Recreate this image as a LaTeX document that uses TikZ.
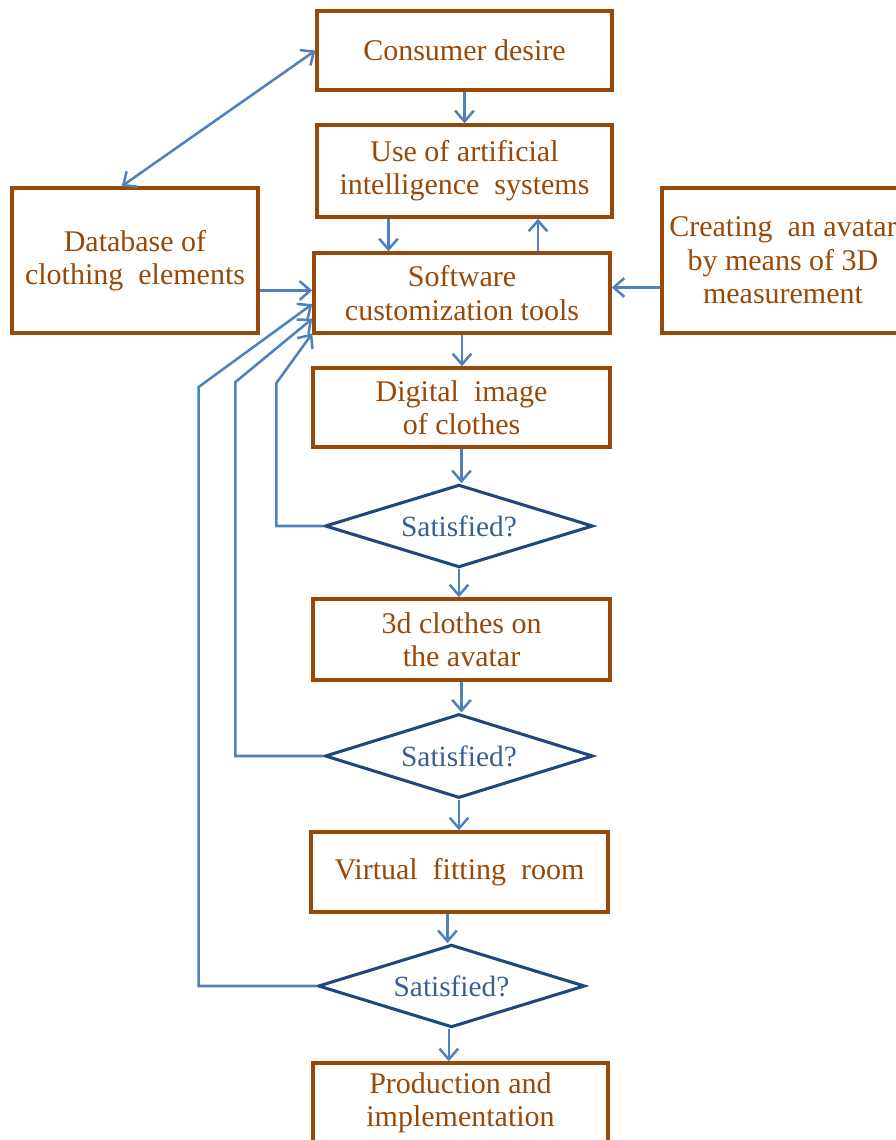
\documentclass[tikz,border=0pt]{standalone}
\usepackage{fontspec}
\setmainfont{Liberation Serif}
\usetikzlibrary{shapes.geometric,arrows.meta,calc}
\definecolor{boxbrown}{HTML}{984807}
\definecolor{dianavy}{HTML}{1F497D}
\definecolor{diatext}{HTML}{376092}
\definecolor{flowblue}{HTML}{4F81BD}
\begin{document}
\begin{tikzpicture}[x=0.75pt,y=0.75pt,yscale=-1,xscale=1,
    box/.style={draw=boxbrown,line width=2.6pt,text=boxbrown,align=center,inner sep=0pt,
      font=\fontsize{22.5pt}{25pt}\selectfont},
    decision/.style={diamond,aspect=3.25,draw=dianavy,line width=2.3pt,text=diatext,inner sep=0pt,
      minimum width=201pt,minimum height=62pt,font=\fontsize{22pt}{25pt}\selectfont},
    flow/.style={draw=flowblue,line width=1.9pt,-{Straight Barb[length=8pt,width=14pt]}}]
    %set diagram size 896 x 1140
    \useasboundingbox (0,0) rectangle (896,1140);

    % Boxes
    \node [box,minimum width=221pt,minimum height=59pt] (desire) at (464.5,50.5) {Consumer desire};
    \node [box,minimum width=221pt,minimum height=69pt] (ai) at (464.5,171) {Use of artificial\\intelligence\ \ systems};
    \node [box,minimum width=184.5pt,minimum height=108.75pt] (db) at (135,260.5) {Database of\\clothing\ \ elements};
    \node [box,minimum width=222pt,minimum height=60pt] (soft) at (462,293) {Software\\customization tools};
    \node [box,minimum width=181.5pt,minimum height=108.75pt] (avatar) at (783,260.5) {Creating\ \ an avatar\\by means of 3D\\measurement};
    \node [box,minimum width=222.75pt,minimum height=59.25pt] (digital) at (461.5,407.5) {Digital\ \ image\\of clothes};
    \node [box,minimum width=222.75pt,minimum height=60.75pt] (clothes) at (461.5,639.5) {3d clothes on\\the avatar};
    \node [box,minimum width=222.75pt,minimum height=60pt] (fitting) at (459.5,872) {Virtual\ \ fitting\ \ room};
    \node [box,minimum width=221.25pt,minimum height=60pt] (prod) at (460.5,1103) {Production and\\implementation};

    % Decisions
    \node [decision] (sat1) at (459,526) {Satisfied?};
    \node [decision,minimum height=63pt] (sat2) at (459,756) {Satisfied?};
    \node [decision,minimum width=200pt] (sat3) at (451.5,986) {Satisfied?};

    % Main flow
    \draw [flow,{Straight Barb[length=8pt,width=14pt]}-{Straight Barb[length=8pt,width=14pt]}] ([xshift=-10pt]db.north) -- (desire.west);
    \draw [flow] (desire.south) -- (ai.north);
    \draw [flow] ([xshift=-57pt]ai.south) -- ([xshift=-57pt]ai.south |- soft.north);
    \draw [flow] ([xshift=57pt]soft.north) -- ([xshift=57pt]soft.north |- ai.south);
    \draw [flow] (db.east) ++(0,30) coordinate (dbout) -- (dbout -| soft.west);
    \draw [flow] (avatar.west) ++(0,27) coordinate (avout) -- (avout -| soft.east);
    \draw [flow] (soft.south) -- (soft.south |- digital.north);
    \draw [flow] (digital.south) -- (digital.south |- sat1.north);
    \draw [flow] (sat1.south) -- (sat1.south |- clothes.north);
    \draw [flow] (clothes.south) -- (clothes.south |- sat2.north);
    \draw [flow] (sat2.south) -- (sat2.south |- fitting.north);
    \draw [flow] ([xshift=-9pt]fitting.south) -- ([xshift=-9pt]fitting.south |- sat3.north);
    \draw [flow] ([xshift=-2pt]sat3.south) -- ([xshift=-2pt]sat3.south |- prod.north);

    % Feedback loops
    \draw [flow] (sat1.west) -- ++(-47,0) -- ++(0,-143) -- ([yshift=-1pt]soft.south west);
    \draw [flow] (sat2.west) -- ++(-88,0) -- ++(0,-374) -- ([yshift=-12pt]soft.south west);
    \draw [flow] (sat3.west) -- ++(-118,0) -- ++(0,-599) -- ([yshift=-23pt]soft.south west);

\end{tikzpicture}
\end{document}
